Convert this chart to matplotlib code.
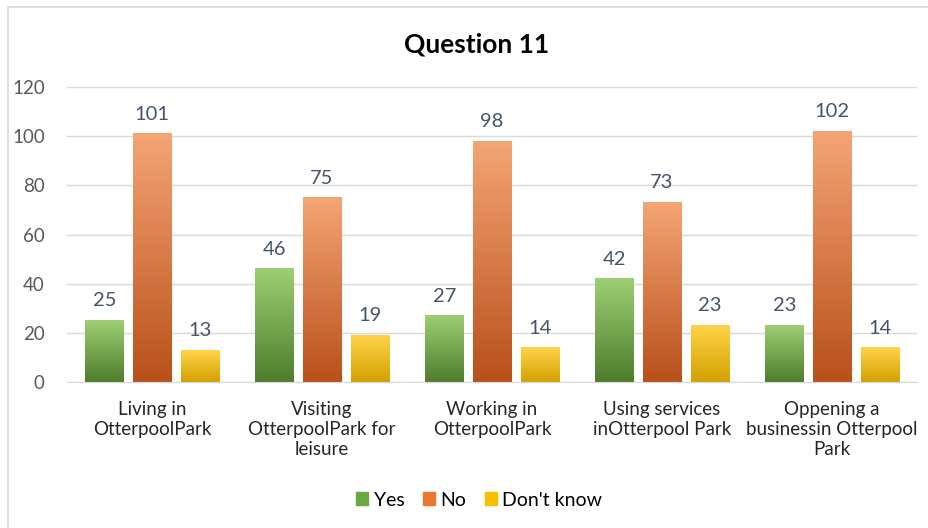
import matplotlib
matplotlib.use("Agg")
import matplotlib.pyplot as plt
import numpy as np
from matplotlib.colors import LinearSegmentedColormap
from matplotlib.patches import Rectangle

categories = ["Living in\nOtterpoolPark",
              "Visiting\nOtterpoolPark for\nleisure",
              "Working in\nOtterpoolPark",
              "Using services\ninOtterpool Park",
              "Oppening a\nbusinessin Otterpool\nPark"]
series_names = ["Yes", "No", "Don't know"]
yes = [25, 46, 27, 42, 23]
no = [101, 75, 98, 73, 102]
dont_know = [13, 19, 14, 23, 14]
yticks = [0, 20, 40, 60, 80, 100, 120]

plt.rcParams['font.family'] = ['Lato', 'DejaVu Sans']

# gradient colors (top, bottom)
grads = [("#9dcf74", "#4e7d2c"), ("#f4a574", "#b9501a"), ("#ffd44a", "#d4a000")]
legend_colors = ["#6aa842", "#e8782f", "#f5c000"]

fig = plt.figure(figsize=(9.29, 5.28), dpi=100)
fig.patch.set_facecolor("white")
# outer border
fig.add_artist(Rectangle((8/929, -0.01), 1.0, 1 - 7/528 + 0.01, transform=fig.transFigure,
                         fill=False, edgecolor="#d9d9d9", linewidth=1.2))

ax = fig.add_axes([67/929, 1 - 382/528, (917 - 67)/929, (382 - 87)/528])
x = np.arange(len(categories))
width = 0.224
offsets = [-0.28, 0.0, 0.28]
data = [yes, no, dont_know]

ax.set_xlim(-0.5, len(categories) - 0.5)
ax.set_ylim(0, 120)

for s, (vals, off, (ctop, cbot)) in enumerate(zip(data, offsets, grads)):
    cmap = LinearSegmentedColormap.from_list("g%d" % s, [cbot, ctop])
    bars = ax.bar(x + off, vals, width, color="none", edgecolor="none", zorder=2)
    for b, v in zip(bars, vals):
        x0 = b.get_x()
        grad = np.linspace(0, 1, 256).reshape(-1, 1)
        ax.imshow(grad, cmap=cmap, origin="lower", aspect="auto",
                  extent=(x0, x0 + b.get_width(), 0, v), zorder=2,
                  interpolation="bicubic")
        ax.text(x0 + b.get_width() / 2, v + 4.5, str(v), ha="center", va="bottom",
                fontsize=14.5, color="#44546a")

ax.set_xlim(-0.5, len(categories) - 0.5)
ax.set_ylim(0, 120)
ax.set_yticks(yticks)
ax.set_yticklabels([str(t) for t in yticks], fontsize=13.5, color="#595959")
ax.set_xticks(x)
ax.set_xticklabels(categories, fontsize=13.5, color="#262626", linespacing=1.2)
ax.tick_params(axis="both", length=0)
ax.tick_params(axis="y", pad=16)
ax.tick_params(axis="x", pad=14)
ax.yaxis.grid(True, color="#d9d9d9", linewidth=1)
ax.set_axisbelow(True)
for sp in ["top", "right", "left"]:
    ax.spines[sp].set_visible(False)
ax.spines["bottom"].set_color("#d9d9d9")

fig.text(0.513, 1 - 44/528, "Question 11", ha="center", va="center",
         fontsize=19, fontweight="bold", color="#000000")

handles = [Rectangle((0, 0), 1, 1, color=c) for c in legend_colors]
fig.legend(handles, series_names, loc="center", bbox_to_anchor=(0.516, 1 - 500/528),
           ncol=3, frameon=False, fontsize=14, handlelength=0.6, handleheight=0.6,
           handletextpad=0.3, columnspacing=0.95)

fig.savefig("out.png", dpi=100, facecolor="white")
